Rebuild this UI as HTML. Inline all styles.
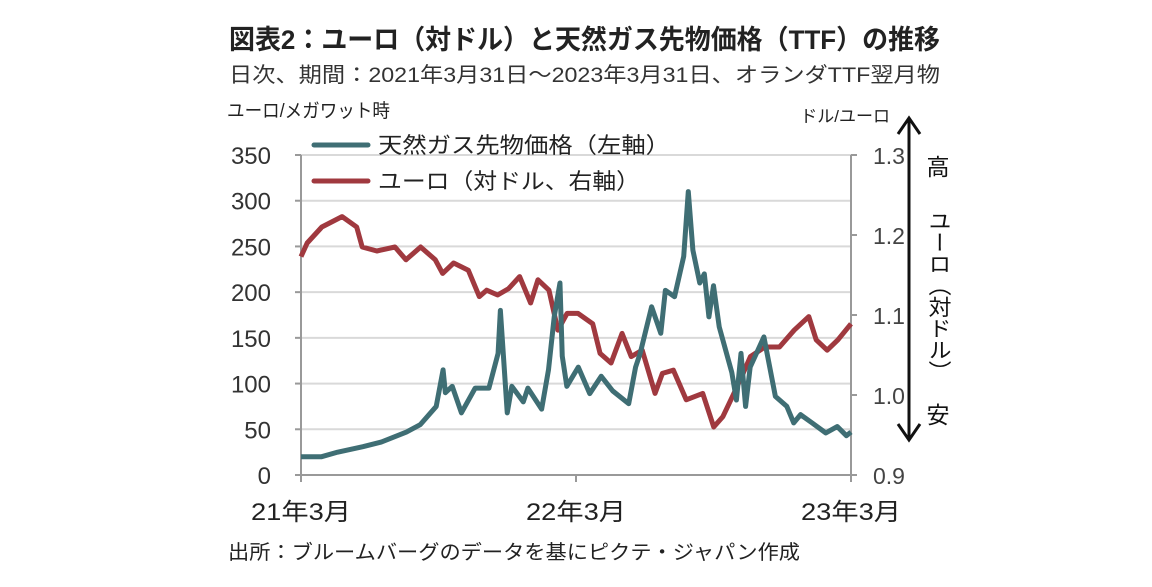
<!DOCTYPE html>
<html><head><meta charset="utf-8">
<style>
body{margin:0;background:#fff;}
svg text{font-family:"Liberation Sans","Noto Sans CJK JP",sans-serif;}
</style></head>
<body>
<svg id="chart" width="1152" height="582" viewBox="0 0 1152 582" xmlns="http://www.w3.org/2000/svg">
<rect width="1152" height="582" fill="#fff"/>
<text x="229" y="49" font-size="27" font-weight="bold" fill="#222" textLength="711" lengthAdjust="spacingAndGlyphs">図表2：ユーロ（対ドル）と天然ガス先物価格（TTF）の推移</text>
<text x="229" y="82" font-size="21" fill="#333" textLength="711" lengthAdjust="spacingAndGlyphs">日次、期間：2021年3月31日～2023年3月31日、オランダTTF翌月物</text>
<text x="227" y="117" font-size="19" fill="#222" textLength="163" lengthAdjust="spacingAndGlyphs">ユーロ/メガワット時</text>
<text x="890" y="122" font-size="17" fill="#222" text-anchor="end">ドル/ユーロ</text>
<g id="grid"></g>
<g id="axes"></g>
<g id="series"></g>
<g>
<line x1="314" y1="145" x2="368" y2="145" stroke="#3f6e74" stroke-width="5" stroke-linecap="round"/>
<text x="378" y="153" font-size="22" fill="#222" textLength="292" lengthAdjust="spacingAndGlyphs">天然ガス先物価格（左軸）</text>
<line x1="314" y1="181" x2="368" y2="181" stroke="#a0393f" stroke-width="5" stroke-linecap="round"/>
<text x="378" y="189" font-size="22" fill="#222" textLength="262" lengthAdjust="spacingAndGlyphs">ユーロ（対ドル、右軸）</text>
</g>
<g>
<line x1="909" y1="120" x2="909" y2="438" stroke="#111" stroke-width="3"/>
<polyline points="898,134 909,118 920,134" fill="none" stroke="#111" stroke-width="3"/>
<polyline points="898,424 909,440 920,424" fill="none" stroke="#111" stroke-width="3"/>
</g>
<text x="938" y="175" font-size="23" text-anchor="middle" fill="#111">高</text>
<text x="938" y="210" font-size="23" fill="#111" style="writing-mode:vertical-rl;" textLength="172" lengthAdjust="spacingAndGlyphs">ユーロ（対ドル）</text>
<text x="938" y="423" font-size="23" text-anchor="middle" fill="#111">安</text>
<text x="228" y="559" font-size="20" fill="#222" textLength="572" lengthAdjust="spacingAndGlyphs">出所：ブルームバーグのデータを基にピクテ・ジャパン作成</text>
</svg>
<script>
const leftTicks=[0,50,100,150,200,250,300,350];
const rightTicks=[0.9,1.0,1.1,1.2,1.3];
const xTickMonths=[0,12,24];
const xTickLabels=["21年3月","22年3月","23年3月"];
const gasMonths=[0,0.9,1.6,2.7,3.5,4.6,5.2,5.9,6.2,6.3,6.6,7.0,7.6,8.2,8.6,8.7,9.0,9.2,9.7,9.9,10.5,10.8,11.05,11.3,11.4,11.6,12.1,12.6,13.1,13.6,14.3,14.6,14.8,15.3,15.7,15.9,16.3,16.7,16.9,17.1,17.4,17.6,17.8,18.0,18.25,18.8,19.0,19.2,19.4,19.6,20.2,20.7,21.2,21.5,21.8,22.3,22.9,23.4,23.8,24];
const gasValues=[20,20,25,31,36,47,55,75,115,90,97,68,95,95,133,180,68,97,80,95,72,115,173,210,130,97,118,89,108,92,78,118,133,184,155,202,195,239,310,246,210,220,173,207,162,112,82,133,75,118,151,86,75,57,66,57,46,53,43,47];
const euroMonths=[0,0.27,0.91,1.79,2.43,2.67,3.31,4.1,4.58,5.22,5.86,6.18,6.66,7.3,7.78,8.1,8.58,9.06,9.54,10.02,10.34,10.82,11.21,11.61,12.09,12.73,13.05,13.53,14.01,14.41,14.89,15.45,15.77,16.25,16.81,17.53,18.01,18.41,18.89,19.29,19.61,20.24,20.88,21.52,22.16,22.48,22.96,23.43,24];
const euroValues=[1.173,1.19,1.21,1.223,1.21,1.185,1.18,1.185,1.169,1.185,1.169,1.152,1.165,1.156,1.123,1.131,1.125,1.133,1.148,1.115,1.144,1.131,1.081,1.102,1.102,1.089,1.052,1.04,1.077,1.048,1.056,1.002,1.027,1.031,0.994,1.002,0.96,0.973,1.002,1.027,1.048,1.06,1.06,1.081,1.098,1.069,1.056,1.069,1.089];
const NS="http://www.w3.org/2000/svg";
const X0=301,X1=851,YB=475,YT=155;
const xs=m=>X0+(X1-X0)*m/24;
const yl=v=>YB-(YB-YT)*v/350;
const yr=v=>YB-(YB-YT)*(v-0.9)/0.4;
function mk(tag,attrs,parent){const e=document.createElementNS(NS,tag);for(const k in attrs)e.setAttribute(k,attrs[k]);parent.appendChild(e);return e;}
const grid=document.getElementById('grid'),axes=document.getElementById('axes'),ser=document.getElementById('series');
leftTicks.forEach(v=>{
  if(v>0){const g=mk('line',{x1:X0,x2:X1,y1:yl(v),y2:yl(v),stroke:'#d9d9d9','stroke-width':2},grid);
  
  }
  mk('line',{x1:X0-6,x2:X0,y1:yl(v),y2:yl(v),stroke:'#999','stroke-width':2},axes);
  const t=mk('text',{x:271,y:yl(v)+9,'font-size':24,'text-anchor':'end',fill:'#333'},axes);
  t.textContent=v;
  
  
});
rightTicks.forEach(v=>{
  mk('line',{x1:X1,x2:X1+6,y1:yr(v),y2:yr(v),stroke:'#999','stroke-width':2},axes);
  const t=mk('text',{x:873,y:yr(v)+9,'font-size':23,fill:'#444'},axes);
  t.textContent=v.toFixed(1);
  
  
});
mk('line',{x1:X0,x2:X0,y1:YT,y2:YB,stroke:'#999','stroke-width':2},axes);
mk('line',{x1:X1,x2:X1,y1:YT,y2:YB,stroke:'#999','stroke-width':2},axes);
mk('line',{x1:X0,x2:X1,y1:YB,y2:YB,stroke:'#999','stroke-width':2},axes);
xTickMonths.forEach((m,i)=>{
  mk('line',{x1:xs(m),x2:xs(m),y1:YB,y2:YB+7,stroke:'#999','stroke-width':2},axes);
  const t=mk('text',{x:xs(m),y:520,'font-size':24,'text-anchor':'middle',fill:'#222',textLength:100,lengthAdjust:'spacingAndGlyphs'},axes);
  t.textContent=xTickLabels[i];
  
  
});
const euro=mk('polyline',{points:euroMonths.map((m,i)=>xs(m)+','+yr(euroValues[i])).join(' '),fill:'none',stroke:'#a0393f','stroke-width':5,'stroke-linejoin':'round'},ser);


const gas=mk('polyline',{points:gasMonths.map((m,i)=>xs(m)+','+yl(gasValues[i])).join(' '),fill:'none',stroke:'#3f6e74','stroke-width':5,'stroke-linejoin':'round'},ser);


</script>
</body></html>
